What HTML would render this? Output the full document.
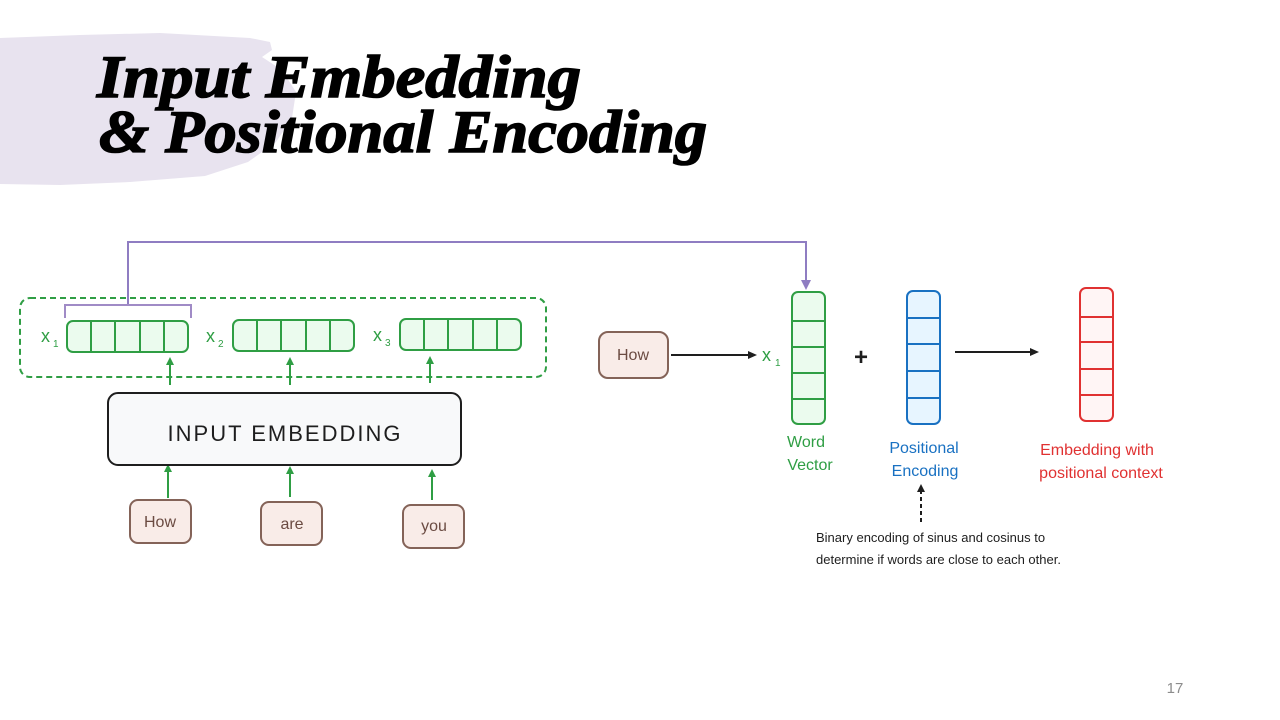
<!DOCTYPE html>
<html><head><meta charset="utf-8">
<style>
html,body{margin:0;padding:0;background:#fff;}
body{width:1280px;height:720px;overflow:hidden;position:relative;}
svg{position:absolute;left:0;top:0;}
</style></head>
<body>
<svg width="1280" height="720" viewBox="0 0 1280 720" xmlns="http://www.w3.org/2000/svg">
<!-- purple blob -->
<path d="M0,38 L80,35 L160,33 L250,38 L270,42 L272,50 L262,57 L282,70 L296,92 L292,118 L276,142 L248,162 L205,176 L130,182 L60,185 L0,184 Z" fill="#e8e3ef"/>
<!-- title -->
<text x="97" y="97" font-family="'Liberation Serif',serif" font-weight="bold" font-style="italic" font-size="60" fill="#000" stroke="#000" stroke-width="1.6" textLength="484" lengthAdjust="spacingAndGlyphs">Input Embedding</text>
<text x="99" y="152" font-family="'Liberation Serif',serif" font-weight="bold" font-style="italic" font-size="60" fill="#000" stroke="#000" stroke-width="1.6" textLength="608" lengthAdjust="spacingAndGlyphs">&amp; Positional Encoding</text>

<!-- purple connector -->
<path d="M128,305 L128,242 L806,242 L806,284" fill="none" stroke="#8f7dc2" stroke-width="2"/>
<path d="M801,280 L806,290 L811,280 Z" fill="#8f7dc2"/>
<path d="M65,318 L65,305 L191,305 L191,318" fill="none" stroke="#a08bc6" stroke-width="2"/>

<!-- dashed green container -->
<rect x="20" y="298" width="526" height="79" rx="10" fill="none" stroke="#2f9e44" stroke-width="2" stroke-dasharray="6,4"/>

<g font-family="'Liberation Sans',sans-serif" fill="#2f9e44">
<text x="41" y="342" font-size="18">x</text><text x="53" y="347" font-size="10">1</text>
<text x="206" y="342" font-size="18">x</text><text x="218" y="347" font-size="10">2</text>
<text x="373" y="341" font-size="18">x</text><text x="385" y="346" font-size="10">3</text>
</g>
<g stroke="#2f9e44" stroke-width="2" fill="#ebfbee">
<rect x="67" y="321" width="121" height="31" rx="6"/>
<path d="M91,321V352M115,321V352M140,321V352M164,321V352" fill="none"/>
<rect x="233" y="320" width="121" height="31" rx="6"/>
<path d="M257,320V351M281,320V351M306,320V351M330,320V351" fill="none"/>
<rect x="400" y="319" width="121" height="31" rx="6"/>
<path d="M424,319V350M448,319V350M473,319V350M497,319V350" fill="none"/>
</g>
<!-- green arrows -->
<g stroke="#2f9e44" stroke-width="2">
<line x1="170" y1="385" x2="170" y2="363"/>
<line x1="290" y1="385" x2="290" y2="363"/>
<line x1="430" y1="383" x2="430" y2="362"/>
<line x1="168" y1="498" x2="168" y2="470"/>
<line x1="290" y1="497" x2="290" y2="472"/>
<line x1="432" y1="500" x2="432" y2="475"/>
</g>
<g fill="#2f9e44">
<path d="M166,365 L170,357 L174,365Z"/><path d="M286,365 L290,357 L294,365Z"/><path d="M426,364 L430,356 L434,364Z"/>
<path d="M164,472 L168,464 L172,472Z"/><path d="M286,474 L290,466 L294,474Z"/><path d="M428,477 L432,469 L436,477Z"/>
</g>

<!-- INPUT EMBEDDING box -->
<rect x="108" y="393" width="353" height="72" rx="10" fill="#f8f9fa" stroke="#1e1e1e" stroke-width="2"/>
<text x="285" y="441" text-anchor="middle" font-family="'Liberation Sans',sans-serif" font-size="22" fill="#1e1e1e" letter-spacing="2">INPUT EMBEDDING</text>

<!-- word boxes -->
<g stroke="#846358" stroke-width="2" fill="#f9ece8">
<rect x="130" y="500" width="61" height="43" rx="8"/>
<rect x="261" y="502" width="61" height="43" rx="8"/>
<rect x="403" y="505" width="61" height="43" rx="8"/>
<rect x="599" y="332" width="69" height="46" rx="9"/>
</g>
<g font-family="'Liberation Sans',sans-serif" font-size="16" fill="#6b4b42" text-anchor="middle">
<text x="160" y="527">How</text>
<text x="292" y="529">are</text>
<text x="434" y="531">you</text>
<text x="633" y="360">How</text>
</g>

<!-- How -> x1 arrow -->
<line x1="671" y1="355" x2="750" y2="355" stroke="#1e1e1e" stroke-width="2"/>
<path d="M748,351 L757,355 L748,359Z" fill="#1e1e1e"/>
<text x="762" y="361" font-family="'Liberation Sans',sans-serif" font-size="18" fill="#2f9e44">x</text>
<text x="775" y="366" font-family="'Liberation Sans',sans-serif" font-size="10" fill="#2f9e44">1</text>

<!-- green vertical vector -->
<rect x="792" y="292" width="33" height="132" rx="6" fill="#ebfbee" stroke="#2f9e44" stroke-width="2"/>
<path d="M792,321H825M792,347H825M792,373H825M792,399H825" stroke="#2f9e44" stroke-width="2"/>
<!-- plus -->
<text x="861" y="365" text-anchor="middle" font-family="'Liberation Sans',sans-serif" font-weight="bold" font-size="24" fill="#1e1e1e">+</text>
<!-- blue vector -->
<rect x="907" y="291" width="33" height="133" rx="6" fill="#e7f5ff" stroke="#1971c2" stroke-width="2"/>
<path d="M907,318H940M907,344H940M907,371H940M907,398H940" stroke="#1971c2" stroke-width="2"/>
<!-- arrow -->
<line x1="955" y1="352" x2="1032" y2="352" stroke="#1e1e1e" stroke-width="2"/>
<path d="M1030,348 L1039,352 L1030,356Z" fill="#1e1e1e"/>
<!-- red vector -->
<rect x="1080" y="288" width="33" height="133" rx="6" fill="#fff5f5" stroke="#e03131" stroke-width="2"/>
<path d="M1080,317H1113M1080,342H1113M1080,369H1113M1080,395H1113" stroke="#e03131" stroke-width="2"/>

<!-- labels -->
<g font-family="'Liberation Sans',sans-serif" font-size="16" text-anchor="middle">
<text x="806" y="447" fill="#2f9e44">Word</text>
<text x="810" y="470" fill="#2f9e44">Vector</text>
<text x="924" y="453" fill="#1971c2">Positional</text>
<text x="925" y="476" fill="#1971c2">Encoding</text>
<text x="1097" y="455" fill="#e03131">Embedding with</text>
<text x="1101" y="478" fill="#e03131">positional context</text>
</g>

<!-- dashed arrow -->
<line x1="921" y1="522" x2="921" y2="492" stroke="#1e1e1e" stroke-width="2" stroke-dasharray="4,3"/>
<path d="M917,492 L921,484 L925,492Z" fill="#1e1e1e"/>
<g font-family="'Liberation Sans',sans-serif" font-size="13" fill="#1e1e1e">
<text x="816" y="542">Binary encoding of sinus and cosinus to</text>
<text x="816" y="564">determine if words are close to each other.</text>
</g>

<text x="1175" y="693" text-anchor="middle" font-family="'Liberation Sans',sans-serif" font-size="15" fill="#8c8c8c">17</text>
</svg>
</body></html>
